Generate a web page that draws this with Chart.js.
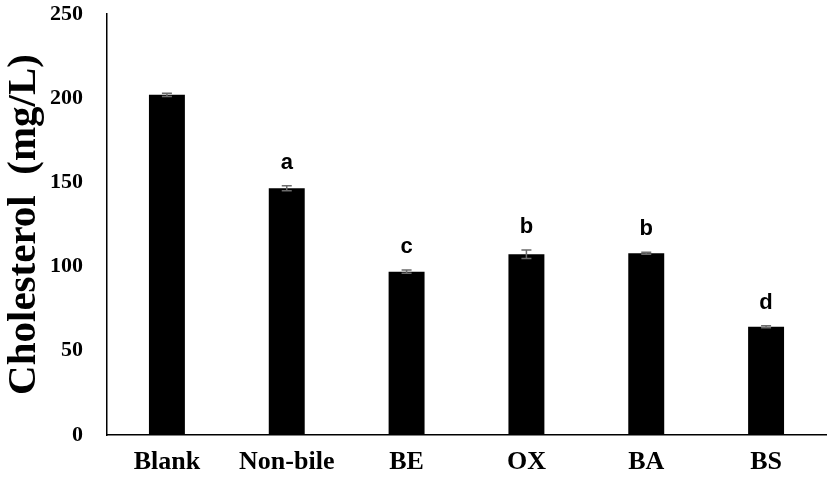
<!DOCTYPE html>
<html>
<head>
<meta charset="utf-8">
<script src="https://cdn.jsdelivr.net/npm/chart.js@4"></script>
<style>
  html, body { margin: 0; padding: 0; background: #fff; }
  #wrap { width: 827px; height: 478px; }
</style>
</head>
<body>
<div id="wrap"><canvas id="chart"></canvas></div>
<script>
// dados
const categories = ["Blank", "Non-bile", "BE", "OX", "BA", "BS"];
const cholesterol = [202, 146.5, 97, 107.3, 107.9, 64.3];
const errors = [1, 1.5, 1, 2.5, 0.6, 0.6];
const letters = ["", "a", "c", "b", "b", "d"];
const yTicks = [0, 50, 100, 150, 200, 250];

// plugin para barras de erro e letras de significância
const errorBarPlugin = {
  id: "errorBars",
  afterDatasetsDraw(chart) {
    const ctx = chart.ctx;
    const y = chart.scales.y;
    const meta = chart.getDatasetMeta(0);
    ctx.save();
    meta.data.forEach((bar, i) => {
      const x = bar.x;
      const top = y.getPixelForValue(cholesterol[i] + errors[i]);
      const bot = y.getPixelForValue(cholesterol[i] - errors[i]);
      ctx.strokeStyle = "#6b6b6b";
      ctx.lineWidth = 1.5;
      ctx.beginPath();
      ctx.moveTo(x, top);
      ctx.lineTo(x, bot);
      ctx.moveTo(x - 5, top);
      ctx.lineTo(x + 5, top);
      ctx.moveTo(x - 5, bot);
      ctx.lineTo(x + 5, bot);
      ctx.stroke();
      if (letters[i]) {
        ctx.fillStyle = "#000";
        ctx.font = "bold 22px 'Liberation Sans', Arial, sans-serif";
        ctx.textAlign = "center";
        ctx.textBaseline = "alphabetic";
        ctx.fillText(letters[i], x, top - 17);
      }
    });
    ctx.restore();
  },
};

new Chart(document.getElementById("chart"), {
  type: "bar",
  data: {
    labels: categories,
    datasets: [
      {
        data: cholesterol,
        backgroundColor: "#000",
        borderWidth: 0,
        categoryPercentage: 1,
        barPercentage: 0.3,
      },
    ],
  },
  options: {
    responsive: true,
    maintainAspectRatio: false,
    animation: false,
    layout: { padding: { top: 14, right: 1, left: 0, bottom: 0 } },
    plugins: {
      legend: { display: false },
      tooltip: { enabled: false },
    },
    scales: {
      x: {
        grid: { display: false, drawTicks: false },
        border: { color: "#000", width: 1.5 },
        ticks: {
          color: "#000",
          padding: 12,
          font: { family: "'Liberation Serif', 'Times New Roman', serif", size: 26, weight: "bold" },
        },
        afterFit: (scale) => { scale.height = 43; },
      },
      y: {
        min: 0,
        max: 250,
        afterBuildTicks: (scale) => { scale.ticks = yTicks.map((v) => ({ value: v })); },
        grid: { display: false, drawTicks: false },
        border: { color: "#000", width: 1.5 },
        ticks: {
          color: "#000",
          padding: 24,
          font: { family: "'Liberation Serif', 'Times New Roman', serif", size: 22, weight: "bold" },
        },
        title: {
          display: true,
          text: "Cholesterol  (mg/L)",
          color: "#000",
          padding: { top: 0, bottom: 0 },
          font: { family: "'Liberation Serif', 'Times New Roman', serif", size: 41, weight: "bold" },
        },
        afterFit: (scale) => {
          scale.width = 107;
          scale.paddingTop = 0;
          scale.paddingBottom = 0;
        },
      },
    },
  },
  plugins: [errorBarPlugin],
});
</script>
</body>
</html>
